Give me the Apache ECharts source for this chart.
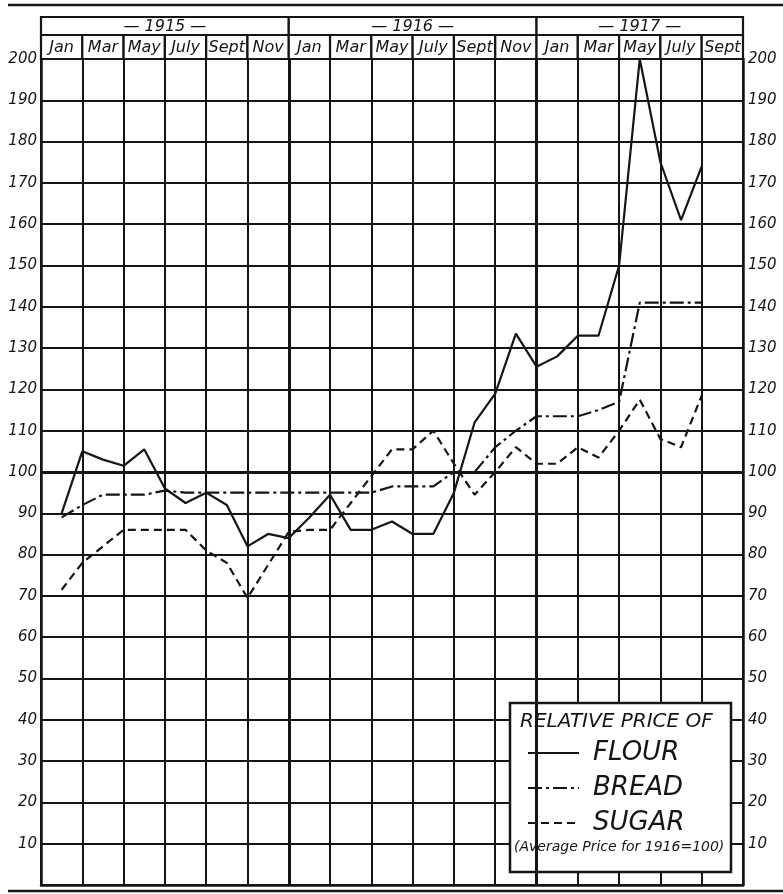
<!DOCTYPE html>
<html><head><meta charset="utf-8">
<script src="https://cdn.jsdelivr.net/npm/echarts@6/dist/echarts.min.js"></script>
<style>html,body{margin:0;padding:0;background:#fff}#c{width:783px;height:894px}</style>
</head><body><div id="c"></div>
<script>
// ---- data (monthly, Jan 1915 .. Aug 1917) ----
const monthLabels = ['Jan','Mar','May','July','Sept','Nov','Jan','Mar','May','July','Sept','Nov','Jan','Mar','May','July','Sept'];
const yearLabels = ['\u2014 1915 \u2014','\u2014 1916 \u2014','\u2014 1917 \u2014'];
const yTickLabels = [10,20,30,40,50,60,70,80,90,100,110,120,130,140,150,160,170,180,190,200];
const seriesNames = ['FLOUR','BREAD','SUGAR'];
const flour = [90,105,103,101.5,105.5,96,92.5,95,92,82,85,84,
               89,94.5,86,86,88,85,85,95,112,119,133.5,125.5,
               128,133,133,150,200,175,161,174];
const bread = [89,92,94.5,94.5,94.5,95.5,95,95,95,95,95,95,
               95,95,95,95,96.5,96.5,96.5,100,100,106,110,113.5,
               113.5,113.5,115,117,141,141,141,141];
const sugar = [71.5,78,82,86,86,86,86,81,78,69.5,77.5,85.5,
               86,86,92.5,99,105.5,105.5,110,102,94.5,100,106,102,
               102,106,103.5,110,117.5,108,106,118.5];
const BASE = 100;

// ---- derived structures ----
const MONTHS_PER_COL = 2;
const xMax = monthLabels.length * MONTHS_PER_COL;
const cells = [];
monthLabels.forEach((lab, i) => cells.push({x0: i*MONTHS_PER_COL, x1: (i+1)*MONTHS_PER_COL, row: 0, label: lab}));
const yearStarts = [];
monthLabels.forEach((lab, i) => { if (lab === 'Jan') yearStarts.push(i); });
const yearBounds = [];
yearStarts.forEach((s, k) => {
  const e = k + 1 < yearStarts.length ? yearStarts[k+1] : monthLabels.length;
  cells.push({x0: s*MONTHS_PER_COL, x1: e*MONTHS_PER_COL, row: 1, label: yearLabels[k]});
  if (k > 0) yearBounds.push(s*MONTHS_PER_COL);
});
const toPts = arr => arr.map((v, m) => [m + 1, v]);

const INK = '#151515';
const FONT = '"DejaVu Sans", sans-serif';
const MONTH_ROW = 24/42;

const chart = echarts.init(document.getElementById('c'), null, {renderer: 'canvas'});
const lineBase = {type: 'line', symbol: 'none', showSymbol: false, xAxisIndex: 0, yAxisIndex: 0, z: 2, clip: false};
chart.setOption({
  backgroundColor: '#fff',
  animation: false,
  grid: [
    {left: 41, right: 40, top: 59, bottom: 9},
    {left: 41, right: 40, top: 17, height: 42}
  ],
  xAxis: [
    {type: 'value', gridIndex: 0, min: 0, max: xMax, interval: MONTHS_PER_COL,
     axisLabel: {show: false}, axisTick: {show: false},
     axisLine: {show: true, lineStyle: {color: INK, width: 2.5}},
     splitLine: {show: true, lineStyle: {color: INK, width: 2}}},
    {type: 'value', gridIndex: 1, min: 0, max: xMax, show: false}
  ],
  yAxis: [
    {type: 'value', gridIndex: 0, min: 0, max: 200, interval: 10, position: 'left',
     axisLine: {show: true, lineStyle: {color: INK, width: 2.5}}, axisTick: {show: false},
     axisLabel: {margin: 4, color: INK, fontFamily: FONT, fontStyle: 'italic', fontSize: 15,
                 formatter: v => yTickLabels.includes(v) ? String(v) : ''},
     splitLine: {show: true, lineStyle: {color: INK, width: 2}}},
    {type: 'value', gridIndex: 0, min: 0, max: 200, interval: 10, position: 'right',
     axisLine: {show: true, lineStyle: {color: INK, width: 2.5}}, axisTick: {show: false},
     axisLabel: {margin: 5, color: INK, fontFamily: FONT, fontStyle: 'italic', fontSize: 15,
                 formatter: v => yTickLabels.includes(v) ? String(v) : ''},
     splitLine: {show: false}},
    {type: 'value', gridIndex: 1, min: 0, max: 1, show: false}
  ],
  legend: {
    orient: 'vertical', left: 527, top: 740, z: 6, padding: 0,
    itemWidth: 51, itemHeight: 24, itemGap: 9,
    data: seriesNames,
    itemStyle: {opacity: 0, color: 'rgba(0,0,0,0)', borderWidth: 0},
    textStyle: {color: INK, fontFamily: FONT, fontStyle: 'italic', fontSize: 26, lineHeight: 24, padding: [0,0,0,9]}
  },
  graphic: [
    {type: 'line', shape: {x1: 8, y1: 5, x2: 783, y2: 5}, style: {stroke: INK, lineWidth: 2.5}},
    {type: 'line', shape: {x1: 8, y1: 891, x2: 783, y2: 891}, style: {stroke: INK, lineWidth: 2.5}},
    {type: 'rect', z: 4, shape: {x: 510, y: 703, width: 221, height: 169},
     style: {fill: '#fff', stroke: INK, lineWidth: 2.5}},
    {type: 'text', z: 6, x: 520, y: 722, style: {text: 'RELATIVE PRICE OF', fill: INK,
     font: 'italic 20px ' + FONT, verticalAlign: 'middle'}},
    {type: 'text', z: 6, x: 514, y: 847, style: {text: '(Average Price for 1916=100)', fill: INK,
     font: 'italic 14px ' + FONT, verticalAlign: 'middle'}}
  ],
  series: [
    Object.assign({}, lineBase, {name: seriesNames[0], data: toPts(flour),
      lineStyle: {color: INK, width: 2.2, type: 'solid'}, itemStyle: {color: INK},
      markLine: {silent: true, symbol: 'none', label: {show: false},
        lineStyle: {color: INK, width: 3, type: 'solid'},
        data: [{yAxis: BASE}].concat(yearBounds.map(b => ({xAxis: b})))}}),
    Object.assign({}, lineBase, {name: seriesNames[1], data: toPts(bread),
      lineStyle: {color: INK, width: 2.2, type: [14, 4, 3, 4]}, itemStyle: {color: INK}}),
    Object.assign({}, lineBase, {name: seriesNames[2], data: toPts(sugar),
      lineStyle: {color: INK, width: 2.2, type: [8, 5]}, itemStyle: {color: INK}}),
    {type: 'custom', xAxisIndex: 1, yAxisIndex: 2, clip: false, silent: true,
     data: cells.map(c => [c.x0, c.x1, c.row]),
     renderItem: (params, api) => {
       const c = cells[params.dataIndex];
       const yb = c.row === 0 ? 0 : MONTH_ROW, yt = c.row === 0 ? MONTH_ROW : 1;
       const p0 = api.coord([c.x0, yb]), p1 = api.coord([c.x1, yt]);
       return {type: 'group', children: [
         {type: 'rect', shape: {x: p0[0], y: p1[1], width: p1[0]-p0[0], height: p0[1]-p1[1]},
          style: {fill: '#fff', stroke: INK, lineWidth: 2.2}},
         {type: 'text', style: {text: c.label, x: (p0[0]+p1[0])/2, y: (p0[1]+p1[1])/2 + 1,
          align: 'center', verticalAlign: 'middle', fill: INK,
          font: 'italic 16px ' + FONT}}
       ]};
     }}
  ]
});
</script></body></html>
